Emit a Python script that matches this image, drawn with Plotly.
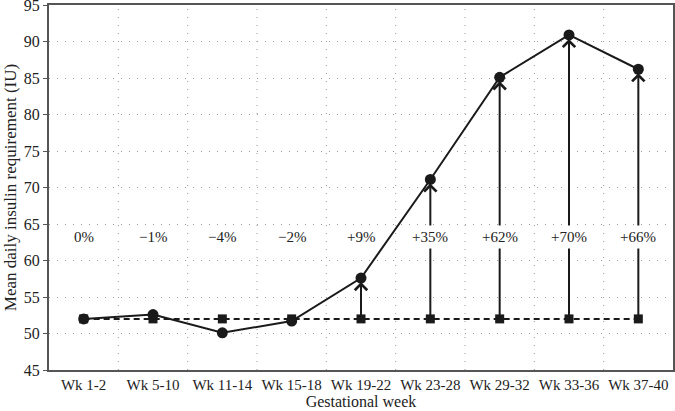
import plotly.graph_objects as go

weeks = ["Wk 1-2", "Wk 5-10", "Wk 11-14", "Wk 15-18", "Wk 19-22",
         "Wk 23-28", "Wk 29-32", "Wk 33-36", "Wk 37-40"]
insulin = [52.0, 52.6, 50.1, 51.7, 57.6, 71.1, 85.1, 90.9, 86.2]
baseline = [52.0, 52.0, 52.0, 52.0, 52.0, 52.0, 52.0, 52.0, 52.0]
change_labels = ["0%", "\u22121%", "\u22124%", "\u22122%", "+9%",
                 "+35%", "+62%", "+70%", "+66%"]
arrow_weeks = weeks[4:]

FONT = "Liberation Serif"
INK = "#1a1a1a"

fig = go.Figure()

# baseline (dashed, squares)
fig.add_trace(go.Scatter(x=weeks, y=baseline, mode="lines+markers",
                         line=dict(color=INK, width=2, dash="6px,4px"),
                         marker=dict(symbol="square", size=9, color=INK),
                         showlegend=False, cliponaxis=False))

# observed requirement (solid, circles)
fig.add_trace(go.Scatter(x=weeks, y=insulin, mode="lines+markers",
                         line=dict(color=INK, width=2),
                         marker=dict(symbol="circle", size=11, color=INK),
                         showlegend=False, cliponaxis=False))

# arrows from baseline up to observed value
for i, wk in enumerate(weeks):
    if wk not in arrow_weeks:
        continue
    fig.add_annotation(x=wk, y=insulin[i], ax=wk, ay=baseline[i],
                       xref="x", yref="y", axref="x", ayref="y",
                       showarrow=True, arrowhead=4, arrowsize=1.2,
                       arrowwidth=2, arrowcolor=INK, standoff=4, text="")

# percentage change labels (white box hides arrow behind)
for wk, lab in zip(weeks, change_labels):
    fig.add_annotation(x=wk, y=63.2, xref="x", yref="y", text=lab, showarrow=False,
                       bgcolor="white", borderpad=3,
                       font=dict(family=FONT, size=15, color="#222"))

fig.update_xaxes(type="category", range=[-0.5, 8.5], automargin=False,
                 showline=True, linecolor="#555", linewidth=2, mirror=True,
                 showgrid=False, ticks="", tickfont=dict(family=FONT, size=15, color="#222"),
                 title=dict(text="Gestational week", font=dict(family=FONT, size=16, color="#222"),
                            standoff=4))
# vertical dotted grid between categories
for k in range(1, 9):
    fig.add_vline(x=k - 0.5, line=dict(color="#999", width=1, dash="1px,7px"), layer="below")

fig.update_yaxes(range=[45, 95], dtick=5, automargin=False, ticklabeloverflow="allow",
                 showline=True, linecolor="#555", linewidth=2, mirror=True,
                 showgrid=True, gridcolor="#999", griddash="1px,7px", gridwidth=1,
                 ticks="outside", ticklen=4, tickcolor="#555",
                 zeroline=False,
                 tickfont=dict(family=FONT, size=16, color="#222"),
                 title=dict(text="Mean daily insulin requirement (IU)",
                            font=dict(family=FONT, size=17, color="#222"), standoff=3))

fig.update_layout(width=675, height=411, plot_bgcolor="white", paper_bgcolor="white",
                  margin=dict(l=49, r=2, t=5, b=41))

# drop the page's default body margin so the figure sits at the window corner
fig.write_html("out.html", config={"displayModeBar": False},
               post_script="document.body.style.margin='0';")
